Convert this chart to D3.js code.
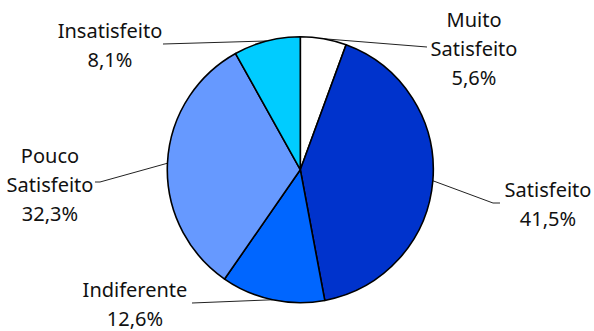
<!DOCTYPE html>
<html>
<head>
<meta charset="utf-8">
<script src="https://cdn.jsdelivr.net/npm/d3@7/dist/d3.min.js"></script>
<style>
  html, body { margin: 0; padding: 0; background: #ffffff; }
  svg { display: block; }
  text { font-family: "Noto Sans", "Open Sans", sans-serif; fill: #111; }
</style>
</head>
<body>
<svg id="chart" width="594" height="331"></svg>
<script>
// Satisfaction survey shares, clockwise from 12 o'clock
const categories = ["Muito Satisfeito", "Satisfeito", "Indiferente", "Pouco Satisfeito", "Insatisfeito"];
const values = [5.6, 41.5, 12.6, 32.3, 8.1];
const labelLines = [["Muito", "Satisfeito"], ["Satisfeito"], ["Indiferente"], ["Pouco", "Satisfeito"], ["Insatisfeito"]];
const colors = ["#FFFFFF", "#0033CC", "#0066FF", "#6699FF", "#00CCFF"];

// Label placement: text centre x, first baseline y, leader elbow point and tail end
const labelLayout = [
  { x: 474, y: 27, elbow: [427, 47], tail: null },
  { x: 548, y: 197, elbow: [493, 203], tail: [500, 203] },
  { x: 135, y: 297, elbow: [192, 303], tail: null },
  { x: 50, y: 163, elbow: [100, 182], tail: [95, 182] },
  { x: 110, y: 38, elbow: [163, 44], tail: null }
];

const width = 594, height = 331;
const cx = 300.3, cy = 169.7, radius = 133;
const lineGap = 29;

const svg = d3.select("#chart");
const g = svg.append("g").attr("transform", `translate(${cx},${cy})`);

const pie = d3.pie().sort(null).value(d => d)(values);
const arc = d3.arc().innerRadius(0).outerRadius(radius);
const fmt = v => v.toFixed(1).replace(".", ",") + "%";

// Leader lines from the rim at each slice's mid-angle
pie.forEach((p, i) => {
  const a = (p.startAngle + p.endAngle) / 2;
  const rim = [radius * Math.sin(a), -radius * Math.cos(a)];
  const L = labelLayout[i];
  const pts = [rim, [L.elbow[0] - cx, L.elbow[1] - cy]];
  if (L.tail) pts.push([L.tail[0] - cx, L.tail[1] - cy]);
  g.append("path")
    .attr("d", d3.line()(pts))
    .attr("fill", "none")
    .attr("stroke", "#222")
    .attr("stroke-width", 1);
});

// Slices
g.selectAll("path.slice")
  .data(pie)
  .enter()
  .append("path")
  .attr("class", "slice")
  .attr("d", arc)
  .attr("fill", (d, i) => colors[i])
  .attr("stroke", "#000")
  .attr("stroke-width", 1.6)
  .attr("stroke-linejoin", "round");

// Labels: category name lines followed by the percentage
pie.forEach((p, i) => {
  const L = labelLayout[i];
  const lines = labelLines[i].concat([fmt(values[i])]);
  const t = svg.append("text")
    .attr("text-anchor", "middle")
    .attr("font-size", 20);
  lines.forEach((s, k) => {
    t.append("tspan")
      .attr("x", L.x)
      .attr("y", L.y + k * lineGap)
      .text(s);
  });
});
</script>
</body>
</html>
